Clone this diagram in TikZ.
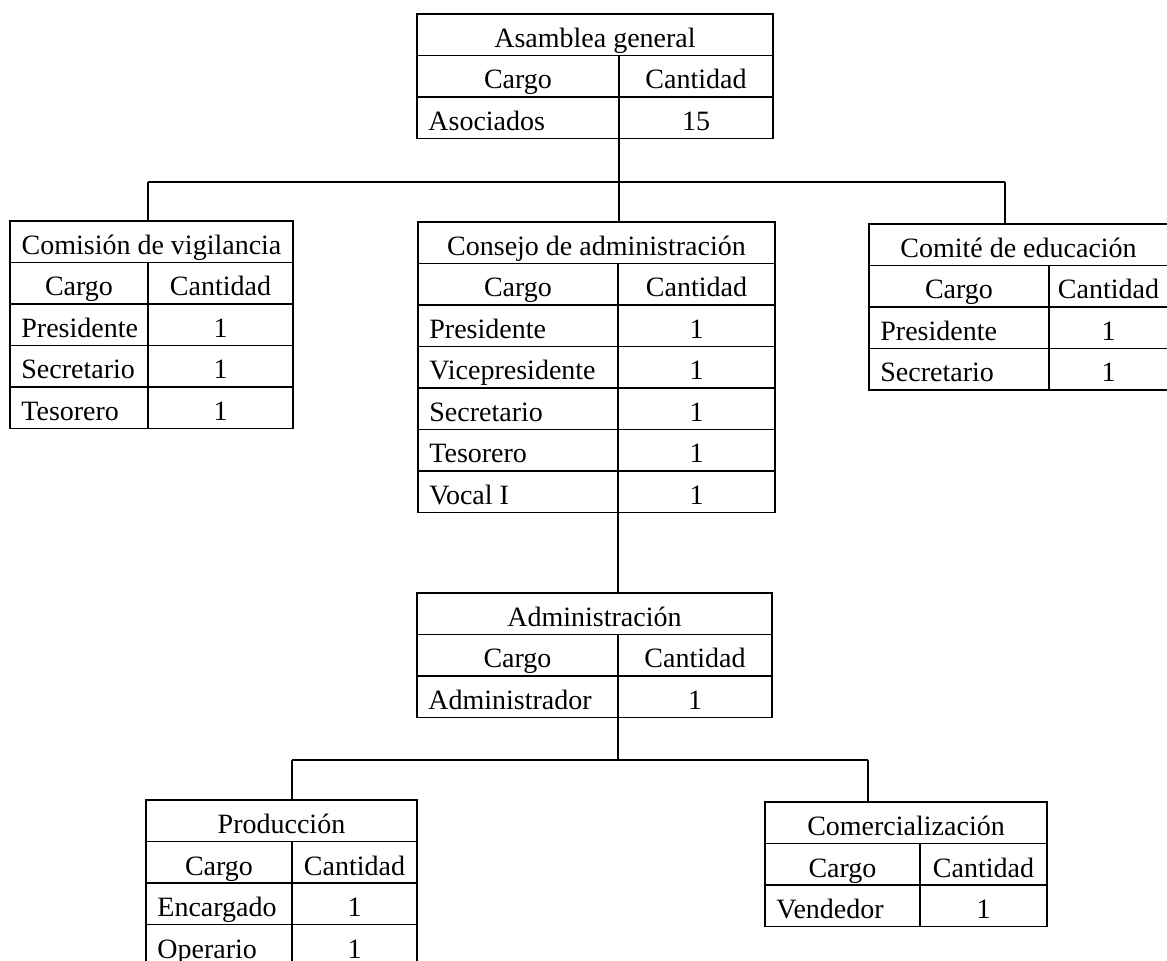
\documentclass[tikz,border=0pt]{standalone}
\usepackage{fontspec}
\setmainfont{Liberation Serif}
\usetikzlibrary{fit}
\tikzset{
  tabframe/.style={draw, line width=0.8pt, inner sep=0pt, outer sep=0pt},
  tabrule/.style={line width=0.8pt},
  cell/.style={anchor=base, inner sep=0pt, font=\fontsize{14}{16}\selectfont},
  lcell/.style={cell, anchor=base west},
  link/.style={line width=0.8pt},
}
% #1 name, #2 left, #3 right, #4 divider x, #5 top, #6 title, #7 number of rows, #8 list label/number
\newcommand\orgtable[8]{%
  \pgfmathsetmacro\orgbot{#5+(#7+2)*41.5}%
  \node[tabframe, fit={(#2,#5) (#3,\orgbot)}] (#1) {};
  \draw[tabrule] (#2,{#5+41.5}) -- (#3,{#5+41.5});
  \draw[tabrule] (#4,{#5+41.5}) -- (#4,\orgbot);
  \node[cell] (#1-title) at ({(#2+#3)/2},{#5+41.5-8}) {#6};
  \node[cell] (#1-cargo) at ({(#2+#4)/2},{#5+2*41.5-8}) {Cargo};
  \node[cell] (#1-cant) at ({(#4+#3)/2},{#5+2*41.5-8}) {Cantidad};
  \foreach \lab/\num [count=\i] in {#8} {
    \draw[tabrule] (#2,{#5+(\i+1)*41.5}) -- (#3,{#5+(\i+1)*41.5});
    \node[lcell] (#1-r\i) at ({#2+11},{#5+(\i+2)*41.5-8}) {\lab};
    \node[cell] (#1-n\i) at ({(#4+#3)/2},{#5+(\i+2)*41.5-8}) {\num};
  }
}
\begin{document}
\begin{tikzpicture}[x=0.5pt,y=-0.5pt]
\fill[white] (0,0) rectangle (1167,961);
\useasboundingbox (0,0) rectangle (1167,961);

\orgtable{asamblea}{417}{773}{619}{14}{Asamblea general}{1}{Asociados/15}
\orgtable{comision}{10}{293}{148}{221}{Comisión de vigilancia}{3}{Presidente/1,Secretario/1,Tesorero/1}
\orgtable{consejo}{418}{775}{618}{222}{Consejo de administración}{5}{Presidente/1,Vicepresidente/1,Secretario/1,Tesorero/1,Vocal I/1}
\orgtable{comite}{869}{1168}{1049}{224}{Comité de educación}{2}{Presidente/1,Secretario/1}
\orgtable{admin}{417}{772}{618}{593}{Administración}{1}{Administrador/1}
\orgtable{prod}{146}{417}{292}{800}{Producción}{2}{Encargado/1,Operario/1}
\orgtable{comer}{765}{1047}{920}{802}{Comercialización}{1}{Vendedor/1}

\coordinate (busTopL) at (148,182);
\coordinate (busTopC) at (619,182);
\coordinate (busTopR) at (1005,182);
\coordinate (busBotL) at (292,760);
\coordinate (busBotC) at (618,760);
\coordinate (busBotR) at (868,760);

\draw[link] (asamblea.south -| busTopC) -- (busTopC);
\draw[link] (busTopL) -- (busTopR);
\draw[link] (busTopL) -- (busTopL |- comision.north);
\draw[link] (busTopC) -- (busTopC |- consejo.north);
\draw[link] (busTopR) -- (busTopR |- comite.north);
\draw[link] (consejo.south -| busBotC) -- (busBotC |- admin.north);
\draw[link] (admin.south -| busBotC) -- (busBotC);
\draw[link] (busBotL) -- (busBotR);
\draw[link] (busBotL) -- (busBotL |- prod.north);
\draw[link] (busBotR) -- (busBotR |- comer.north);
\end{tikzpicture}
\end{document}
